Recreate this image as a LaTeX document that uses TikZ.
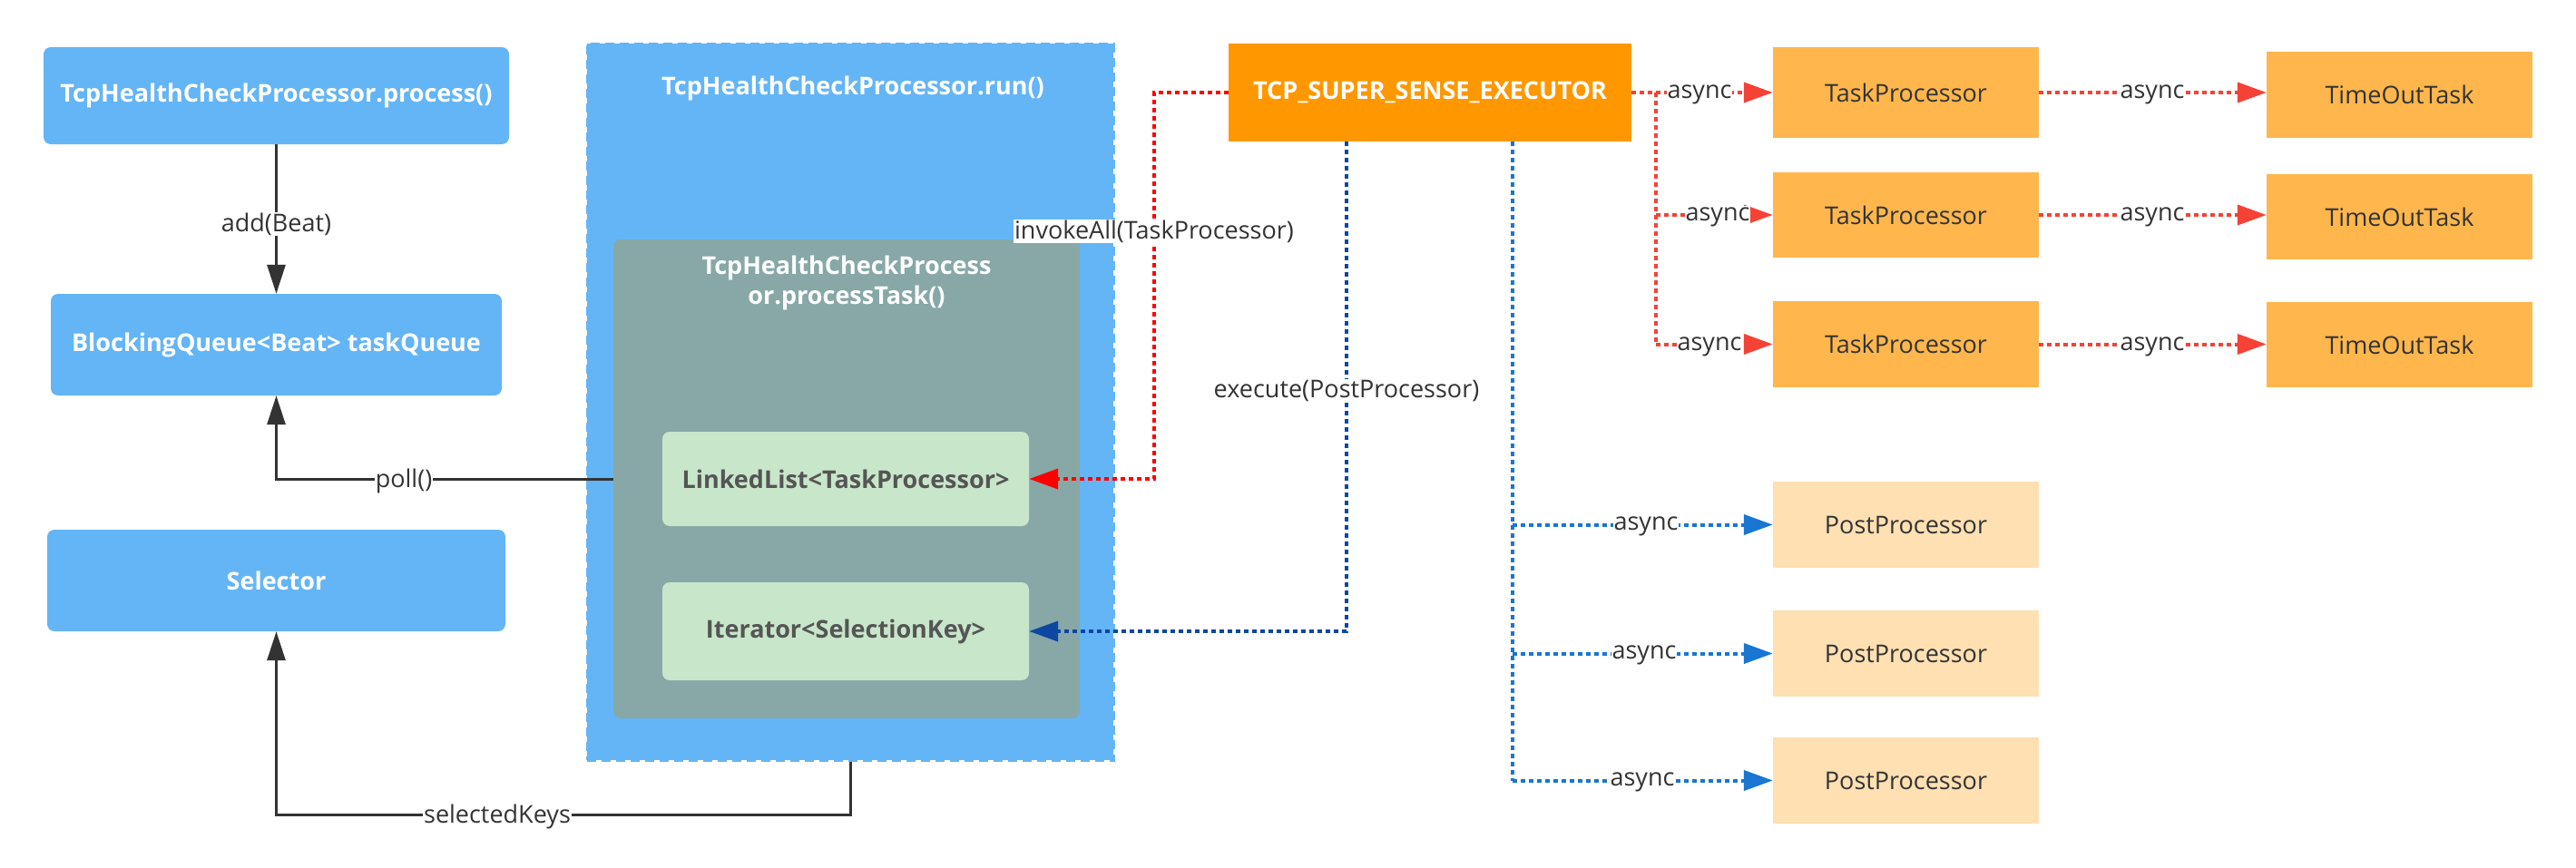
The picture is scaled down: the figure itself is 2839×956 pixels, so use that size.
\documentclass[tikz,border=0pt]{standalone}
\usepackage{fontspec}
\setmainfont{Open Sans}
\usetikzlibrary{arrows.meta}
\definecolor{boxblue}{HTML}{64B5F6}
\definecolor{innergray}{HTML}{87A8A7}
\definecolor{lightgreen}{HTML}{C8E6C9}
\definecolor{execorange}{HTML}{FF9800}
\definecolor{tporange}{HTML}{FFB74D}
\definecolor{pporange}{HTML}{FFE0B2}
\definecolor{lncol}{HTML}{333333}
\definecolor{greentext}{HTML}{555555}
\definecolor{redA}{HTML}{F44336}
\definecolor{redB}{HTML}{FF0000}
\definecolor{blueA}{HTML}{0D47A1}
\definecolor{blueB}{HTML}{1976D2}
\begin{document}
\begin{tikzpicture}[x=1pt,y=-1pt,
  bfont/.style={font=\fontsize{27}{33}\selectfont\bfseries},
  rfont/.style={font=\fontsize{27}{31}\selectfont},
  bluebox/.style={fill=boxblue, rounded corners=8pt, inner sep=0pt, text=white, bfont},
  greenbox/.style={fill=lightgreen, rounded corners=8pt, inner sep=0pt, text=greentext, bfont},
  tpbox/.style={fill=tporange, inner sep=0pt, text=lncol, rfont, minimum width=293pt},
  ppbox/.style={fill=pporange, inner sep=0pt, text=lncol, rfont, minimum width=293pt, minimum height=95pt},
  lbl/.style={fill=white, inner sep=1pt, text=lncol, rfont},
  solidcon/.style={draw=lncol, line width=3pt, -{Triangle[length=32pt,width=20pt]}},
  dotcon/.style={line width=4pt, dash pattern=on 5pt off 4pt},
]
\useasboundingbox (0,0) rectangle (2839,956);
\fill[white] (0,0) rectangle (2839,956);

% left column
\node[bluebox, minimum width=513pt, minimum height=107pt] (process) at (304.5,105.5) {TcpHealthCheckProcessor.process()};
\node[bluebox, minimum width=497pt, minimum height=112pt] (queue) at (304.5,380) {BlockingQueue<Beat> taskQueue};
\node[bluebox, minimum width=505pt, minimum height=112pt] (selector) at (304.5,640) {Selector};

% run container
\node[fill=boxblue, draw=boxblue, line width=3pt, dash pattern=on 10pt off 6pt, minimum width=580pt, minimum height=790pt, inner sep=0pt] (run) at (937,443) {};
\node[text=white, bfont] (runtitle) at (940,97) {TcpHealthCheckProcessor.run()};
\node[fill=innergray, rounded corners=8pt, minimum width=514pt, minimum height=528pt, inner sep=0pt] (inner) at (933,528) {};
\node[text=white, bfont, align=center] (innertitle) at (933,312) {TcpHealthCheckProcess\\or.processTask()};
\node[greenbox, minimum width=404pt, minimum height=104pt] (linked) at (932,528) {LinkedList<TaskProcessor>};
\node[greenbox, minimum width=404pt, minimum height=108pt] (iter) at (932,696) {Iterator<SelectionKey>};

% executor and right boxes
\node[fill=execorange, inner sep=0pt, minimum width=444pt, minimum height=108pt, text=white, bfont] (executor) at (1576,102) {TCP\_SUPER\_SENSE\_EXECUTOR};
\node[tpbox, minimum height=100pt] (tp1) at (2100.5,102) {TaskProcessor};
\node[tpbox, minimum height=94pt] (tp2) at (2100.5,237) {TaskProcessor};
\node[tpbox, minimum height=95pt] (tp3) at (2100.5,379.5) {TaskProcessor};
\node[tpbox, minimum height=95pt] (to1) at (2644.5,104.5) {TimeOutTask};
\node[tpbox, minimum height=94pt] (to2) at (2644.5,239) {TimeOutTask};
\node[tpbox, minimum height=94pt] (to3) at (2644.5,380) {TimeOutTask};
\node[ppbox] (pp1) at (2100.5,578.5) {PostProcessor};
\node[ppbox] (pp2) at (2100.5,720.5) {PostProcessor};
\node[ppbox] (pp3) at (2100.5,860.5) {PostProcessor};

% helper coordinates
\coordinate (pollbend) at (304.5,528);
\coordinate (selA) at (937,898);
\coordinate (selB) at (304.5,898);
\coordinate (invA) at (1272,102);
\coordinate (invB) at (1272,528);
\coordinate (exA) at (1484,156);
\coordinate (exB) at (1484,696);
\coordinate (asA) at (1825,102);
\coordinate (asB) at (1825,237);
\coordinate (asC) at (1825,379.5);
\coordinate (ppA) at (1667,156);
\coordinate (ppB) at (1667,578.5);
\coordinate (ppC) at (1667,720.5);
\coordinate (ppD) at (1667,860.5);

% black connectors
\draw[solidcon] (process.south) -- (queue.north);
\draw[solidcon] (inner.west) -- (pollbend) -- (queue.south);
\draw[solidcon] (run.south) -- (selA) -- (selB) -- (selector.south);

% invokeAll
\draw[dotcon, draw=redB, -{Triangle[length=32pt,width=22pt]}] (executor.west) -- (invA) -- (invB) -- (linked.east);
% execute
\draw[dotcon, draw=blueA, -{Triangle[length=32pt,width=22pt]}] (exA) -- (exB) -- (iter.east);

% red async
\draw[dotcon, draw=redA, -{Triangle[length=32pt,width=22pt]}] (executor.east) -- (tp1.west);
\draw[dotcon, draw=redA] (asA) -- (asC);
\draw[dotcon, draw=redA, -{Triangle[length=32pt,width=22pt]}] (asB) -- (tp2.west);
\draw[dotcon, draw=redA, -{Triangle[length=32pt,width=22pt]}] (asC) -- (tp3.west);
\draw[dotcon, draw=redA, -{Triangle[length=32pt,width=22pt]}] (tp1.east) -- (tp1.east -| to1.west);
\draw[dotcon, draw=redA, -{Triangle[length=32pt,width=22pt]}] (tp2.east) -- (tp2.east -| to2.west);
\draw[dotcon, draw=redA, -{Triangle[length=32pt,width=22pt]}] (tp3.east) -- (tp3.east -| to3.west);

% blue async
\draw[dotcon, draw=blueB] (ppA) -- (ppD);
\draw[dotcon, draw=blueB, -{Triangle[length=32pt,width=22pt]}] (ppB) -- (pp1.west);
\draw[dotcon, draw=blueB, -{Triangle[length=32pt,width=22pt]}] (ppC) -- (pp2.west);
\draw[dotcon, draw=blueB, -{Triangle[length=32pt,width=22pt]}] (ppD) -- (pp3.west);

% labels
\node[lbl] (l1) at (304.5,247) {add(Beat)};
\node[lbl] (l2) at (445,530) {poll()};
\node[lbl] (l3) at (548,900) {selectedKeys};
\node[lbl] (l4) at (1272,255) {invokeAll(TaskProcessor)};
\node[lbl] (l5) at (1484,431) {execute(PostProcessor)};
\node[lbl] (a1) at (1873,104) {async};
\node[lbl] (a2) at (1893,239) {async};
\node[lbl] (a3) at (1884,382) {async};
\node[lbl] (a4) at (2372,104) {async};
\node[lbl] (a5) at (2372,239) {async};
\node[lbl] (a6) at (2372,382) {async};
\node[lbl] (b1) at (1814,580) {async};
\node[lbl] (b2) at (1812,722) {async};
\node[lbl] (b3) at (1810,862) {async};
\end{tikzpicture}
\end{document}
